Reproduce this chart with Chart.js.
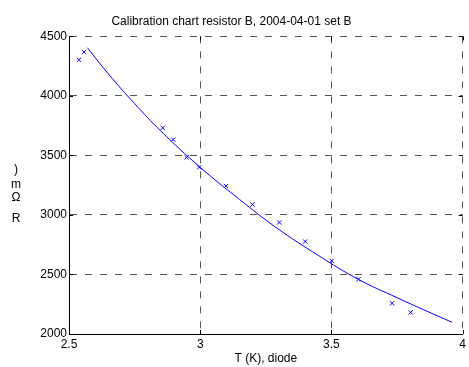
<!DOCTYPE html>
<html>
<head>
<meta charset="utf-8">
<script src="https://cdn.jsdelivr.net/npm/chart.js@4/dist/chart.umd.min.js"></script>
<style>
  html, body { margin: 0; padding: 0; background: #fff; }
  #chart { display: block; }
</style>
</head>
<body>
<canvas id="chart" width="469" height="367"></canvas>
<script>
// measured points (x markers)
const measT = [2.538, 2.557, 2.857, 2.897, 2.948, 2.996, 3.098, 3.199, 3.301, 3.400, 3.501, 3.603, 3.731, 3.802];
const measR = [4304, 4368, 3732, 3633, 3484, 3400, 3243, 3088, 2937, 2777, 2614, 2460, 2258, 2182];

// fitted curve
const fitT = [2.57, 2.65, 2.75, 2.85, 3.00, 3.15, 3.29, 3.45, 3.60, 3.75, 3.85, 3.96];
const fitR = [4405, 4185, 3935, 3705, 3400, 3130, 2893, 2660, 2462, 2305, 2205, 2098];

const xTicks = [2.5, 3, 3.5, 4];
const yTicks = [2000, 2500, 3000, 3500, 4000, 4500];

const titleText = "Calibration chart resistor B, 2004-04-01 set B";
const xTitle = "T (K), diode";
const yTitleChars = ["R", "\u03A9", "m", ")"]; // drawn upright, stacked bottom to top

const FONT = "'Liberation Sans', Arial, sans-serif";
const BLUE = "#0000ff";

function toXY(xs, ys) {
  return xs.map((x, i) => ({ x, y: ys[i] }));
}

// small inward ticks on all four sides + stacked y label
const axisDecor = {
  id: "axisDecor",
  afterDatasetsDraw(chart) {
    const { ctx, chartArea: a, scales } = chart;
    ctx.save();
    ctx.strokeStyle = "#000";
    ctx.lineWidth = 1;
    ctx.beginPath();
    for (const v of xTicks) {
      const px = Math.round(scales.x.getPixelForValue(v)) + 0.5;
      ctx.moveTo(px, a.bottom); ctx.lineTo(px, a.bottom - 4);
      ctx.moveTo(px, a.top); ctx.lineTo(px, a.top + 4);
    }
    for (const v of yTicks) {
      const py = Math.round(scales.y.getPixelForValue(v)) + 0.5;
      ctx.moveTo(a.left, py); ctx.lineTo(a.left + 4, py);
      ctx.moveTo(a.right, py); ctx.lineTo(a.right - 4, py);
    }
    ctx.stroke();

    // y axis title, characters stacked
    ctx.fillStyle = "#000";
    ctx.font = "12px " + FONT;
    ctx.textAlign = "center";
    ctx.textBaseline = "middle";
    const ys = [219, 198, 185, 170];
    yTitleChars.forEach((c, i) => ctx.fillText(c, 16, ys[i]));
    ctx.restore();
  }
};

new Chart(document.getElementById("chart"), {
  type: "scatter",
  data: {
    datasets: [
      {
        label: "fit",
        data: toXY(fitT, fitR),
        showLine: true,
        borderColor: BLUE,
        borderWidth: 1,
        pointRadius: 0,
        tension: 0.4,
        fill: false
      },
      {
        label: "measured",
        data: toXY(measT, measR),
        showLine: false,
        pointStyle: "crossRot",
        pointRadius: 3,
        borderColor: BLUE,
        borderWidth: 1
      }
    ]
  },
  options: {
    responsive: false,
    animation: false,
    devicePixelRatio: 1,
    layout: { padding: { left: 0, right: 6, top: 0, bottom: 0 } },
    plugins: {
      legend: { display: false },
      tooltip: { enabled: false },
      title: {
        display: true,
        text: titleText,
        color: "#000",
        font: { family: FONT, size: 12, weight: "normal" },
        padding: { top: 14, bottom: 8 }
      }
    },
    scales: {
      x: {
        type: "linear",
        min: 2.5,
        max: 4,
        afterBuildTicks: (s) => { s.ticks = xTicks.map((v) => ({ value: v })); },
        afterFit: (s) => { s.height = 33; },
        ticks: {
          color: "#000",
          font: { family: FONT, size: 12 },
          padding: 3,
          maxRotation: 0,
          callback: (v) => String(v)
        },
        grid: { color: "#555", lineWidth: 1, drawTicks: false },
        border: { display: true, color: "#000", width: 1, dash: [7, 8] },
        title: {
          display: true,
          text: xTitle,
          color: "#000",
          font: { family: FONT, size: 12 },
          padding: { top: 0, bottom: 1 }
        }
      },
      y: {
        type: "linear",
        min: 2000,
        max: 4500,
        afterBuildTicks: (s) => { s.ticks = yTicks.map((v) => ({ value: v })); },
        afterFit: (s) => { s.width = 69; },
        ticks: {
          color: "#000",
          font: { family: FONT, size: 12 },
          padding: 2,
          callback: (v) => String(v)
        },
        grid: { color: "#555", lineWidth: 1, drawTicks: false },
        border: { display: true, color: "#000", width: 1, dash: [7, 8] }
      }
    }
  },
  plugins: [axisDecor]
});
</script>
</body>
</html>
